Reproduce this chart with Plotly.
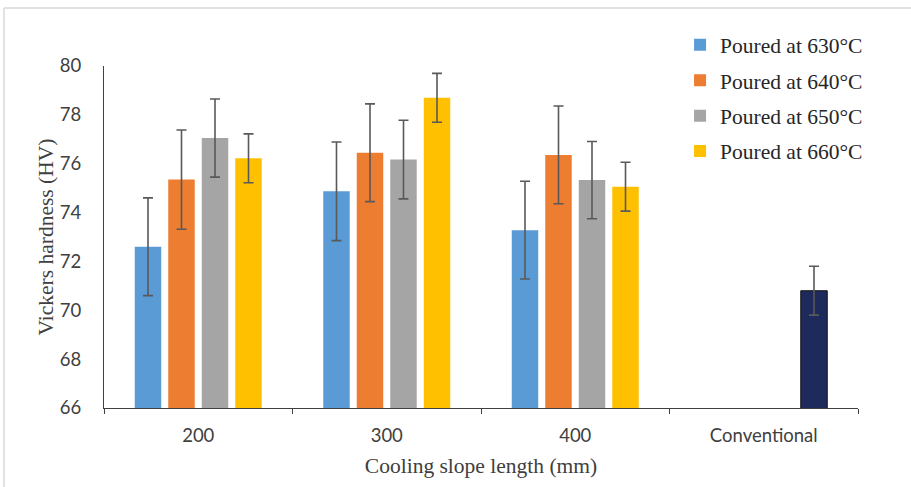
import plotly.graph_objects as go

categories = ["200", "300", "400"]
all_categories = ["200", "300", "400", "Conventional"]
series_names = ["Poured at 630°C", "Poured at 640°C", "Poured at 650°C", "Poured at 660°C"]
values_630 = [72.6, 74.87, 73.28]
values_640 = [75.35, 76.45, 76.36]
values_650 = [77.05, 76.17, 75.33]
values_660 = [76.22, 78.7, 75.06]
err_630 = [2.0, 2.02, 2.0]
err_640 = [2.03, 2.0, 2.0]
err_650 = [1.6, 1.61, 1.58]
err_660 = [1.0, 1.0, 1.0]
conv_category = ["Conventional"]
conv_value = [70.8]
conv_err = [1.0]

colors = ["#5B9BD5", "#ED7D31", "#A5A5A5", "#FFC000"]
conv_color = "#1F2A5C"

serif = "Liberation Serif"
sans = "Lato"

fig = go.Figure()
vals = [values_630, values_640, values_650, values_660]
errs = [err_630, err_640, err_650, err_660]
for i in range(4):
    fig.add_trace(go.Bar(
        x=categories, y=vals[i], name=series_names[i],
        marker=dict(color=colors[i], line=dict(width=0)),
        error_y=dict(type="data", array=errs[i], color="#595959", thickness=1.6, width=5),
        offsetgroup=str(i), legendgroup=str(i),
    ))
fig.add_trace(go.Bar(
    x=conv_category, y=conv_value, name="Conventional", showlegend=False,
    marker=dict(color=conv_color, line=dict(width=1, color="#111111")),
    error_y=dict(type="data", array=conv_err, color="#595959", thickness=1.6, width=5),
    offsetgroup="3",
))

fig.update_layout(
    width=911, height=487,
    margin=dict(l=104, r=53, t=66, b=79, autoexpand=False),
    paper_bgcolor="white", plot_bgcolor="white",
    barmode="group", bargap=0.289, bargroupgap=0.21,
    showlegend=True,
    legend=dict(x=0.764, xanchor="left", y=1.122, yanchor="top",
                font=dict(family=serif, size=21.5, color="#262626"),
                bgcolor="rgba(0,0,0,0)", tracegroupgap=4.5, traceorder="grouped"),
    xaxis=dict(
        type="category", categoryorder="array", categoryarray=all_categories,
        showline=True, linecolor="#404040", linewidth=1.3,
        ticks="outside", tickson="boundaries", ticklen=5, tickcolor="#404040", tickwidth=1.3,
        tickfont=dict(family=sans, size=18.5, color="#404040"),
        ticklabelstandoff=11,
        showgrid=False,
        title=dict(text="Cooling slope length (mm)", font=dict(family=serif, size=21.5, color="#404040"), standoff=12),
    ),
    yaxis=dict(
        range=[66, 80], dtick=2, tick0=66,
        showline=True, linecolor="#404040", linewidth=1.3,
        ticks="", showgrid=False, zeroline=False,
        tickfont=dict(family=sans, size=18.5, color="#404040"),
        ticklabelstandoff=18,
        title=dict(text="Vickers hardness (HV)", font=dict(family=serif, size=21.5, color="#404040"), standoff=0),
    ),
    shapes=[
        dict(type="line", xref="paper", yref="paper", x0=(4 - 104) / 754, x1=(4 - 104) / 754,
             y0=(408 - 487) / 342, y1=(408 - 8) / 342, line=dict(color="#D9D9D9", width=1.5)),
        dict(type="line", xref="paper", yref="paper", x0=(4 - 104) / 754, x1=(911 - 104) / 754,
             y0=(408 - 8) / 342, y1=(408 - 8) / 342, line=dict(color="#D9D9D9", width=1.5)),
    ],
)

fig.write_html("out.html", config={"displayModeBar": False},
               post_script="document.body.style.margin='0';")
